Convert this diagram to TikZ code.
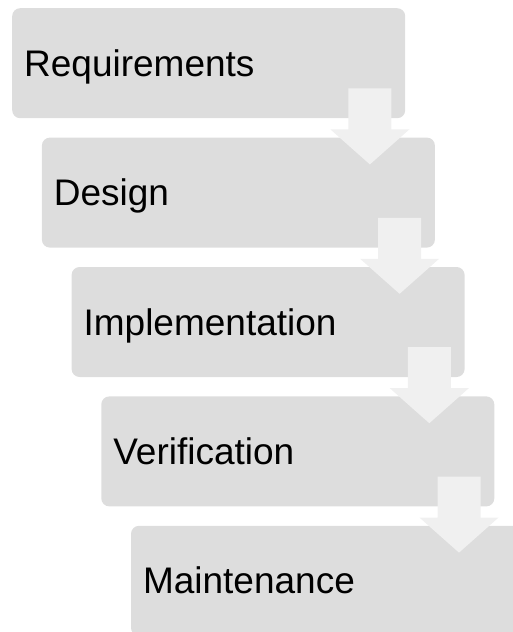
\documentclass[tikz,border=0pt]{standalone}
\usepackage{fontspec}
\setmainfont{Liberation Sans}
\usetikzlibrary{positioning}
\definecolor{boxgray}{RGB}{221,221,221}
\definecolor{arrowgray}{RGB}{240,240,240}
\begin{document}
\begin{tikzpicture}[x=1pt, y=1pt,
        stage/.style={fill=boxgray, rounded corners=8pt, anchor=north west,
            minimum width=393pt, minimum height=110pt, text width=369pt,
            inner xsep=12pt, inner ysep=0pt, text height=31pt, text depth=5pt,
            align=left, font=\fontsize{37}{42}\selectfont},
        flow/.style={fill=arrowgray}]
        \useasboundingbox (0,0) rectangle (512,-632);
        % the five stages
        \node[stage] (req) at (12,-8) {Requirements};
        \node[stage, below=19pt of req.south west, anchor=north west, xshift=29.7pt] (des) {Design};
        \node[stage, below=19pt of des.south west, anchor=north west, xshift=29.7pt] (imp) {Implementation};
        \node[stage, below=19pt of imp.south west, anchor=north west, xshift=29.7pt] (ver) {Verification};
        \node[stage, below=19pt of ver.south west, anchor=north west, xshift=29.7pt] (mai) {Maintenance};
        % block arrows from one stage down to the next
        \foreach \b in {req,des,imp,ver}
            \fill[flow] ([shift={(-57,30)}]\b.south east) -- ++(43,0) -- ++(0,-41) -- ++(18,0)
                -- ++(-39.5,-35) -- ++(-39.5,35) -- ++(18,0) -- cycle;
    \end{tikzpicture}
\end{document}
